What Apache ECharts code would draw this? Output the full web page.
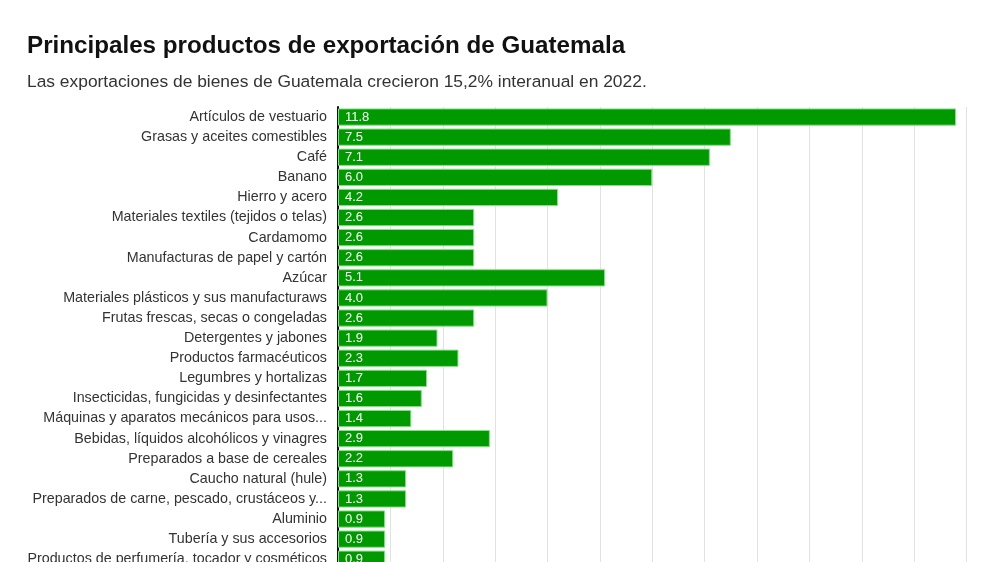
<!DOCTYPE html>
<html>
<head>
<meta charset="utf-8">
<script src="https://cdn.jsdelivr.net/npm/echarts@6/dist/echarts.min.js"></script>
<style>
html,body{margin:0;padding:0;overflow:hidden;background:#fff;width:1000px;height:562px;}
#c{width:1000px;height:620px;}
</style>
</head>
<body>
<div id="c"></div>
<script>
const categories = [
  "Artículos de vestuario",
  "Grasas y aceites comestibles",
  "Café",
  "Banano",
  "Hierro y acero",
  "Materiales textiles (tejidos o telas)",
  "Cardamomo",
  "Manufacturas de papel y cartón",
  "Azúcar",
  "Materiales plásticos y sus manufacturaws",
  "Frutas frescas, secas o congeladas",
  "Detergentes y jabones",
  "Productos farmacéuticos",
  "Legumbres y hortalizas",
  "Insecticidas, fungicidas y desinfectantes",
  "Máquinas y aparatos mecánicos para usos...",
  "Bebidas, líquidos alcohólicos y vinagres",
  "Preparados a base de cereales",
  "Caucho natural (hule)",
  "Preparados de carne, pescado, crustáceos y...",
  "Aluminio",
  "Tubería y sus accesorios",
  "Productos de perfumería, tocador y cosméticos"
];
const values = [11.8, 7.5, 7.1, 6.0, 4.2, 2.6, 2.6, 2.6, 5.1, 4.0, 2.6, 1.9, 2.3, 1.7, 1.6, 1.4, 2.9, 2.2, 1.3, 1.3, 0.9, 0.9, 0.9];
const titleText = "Principales productos de exportación de Guatemala";
const subtitleText = "Las exportaciones de bienes de Guatemala crecieron 15,2% interanual en 2022.";

const chart = echarts.init(document.getElementById('c'), null, {renderer: 'canvas'});
chart.setOption({
  animation: false,
  backgroundColor: '#fff',
  title: [
    {text: titleText, left: 27, top: 34, padding: 0, textStyle: {fontFamily: 'Liberation Sans', fontSize: 24.2, fontWeight: 'bold', color: '#111'}},
    {text: subtitleText, left: 27, top: 74, padding: 0, textStyle: {fontFamily: 'Liberation Sans', fontSize: 17.4, fontWeight: 'normal', color: '#333'}}
  ],
  grid: {left: 338, top: 107, width: 628.5, height: 462.3, containLabel: false},
  xAxis: {
    type: 'value', min: 0, max: 12, interval: 1,
    axisLabel: {show: false}, axisLine: {show: false}, axisTick: {show: false},
    splitLine: {show: true, lineStyle: {color: '#e2e2e2', width: 1}}
  },
  yAxis: {
    type: 'category', data: categories, inverse: true,
    axisTick: {show: false},
    axisLine: {show: true, lineStyle: {color: '#111', width: 2}},
    axisLabel: {color: '#333', fontSize: 14.3, fontFamily: 'Liberation Sans', margin: 11}
  },
  series: [{
    type: 'bar', data: values, barCategoryGap: '14%',
    itemStyle: {color: '#009a00', borderColor: '#86e086', borderWidth: 1},
    label: {show: true, position: 'insideLeft', color: '#fff', fontSize: 13, fontFamily: 'Liberation Sans', offset: [2, 0],
      formatter: p => p.value.toFixed(1)}
  }]
});
</script>
</body>
</html>
